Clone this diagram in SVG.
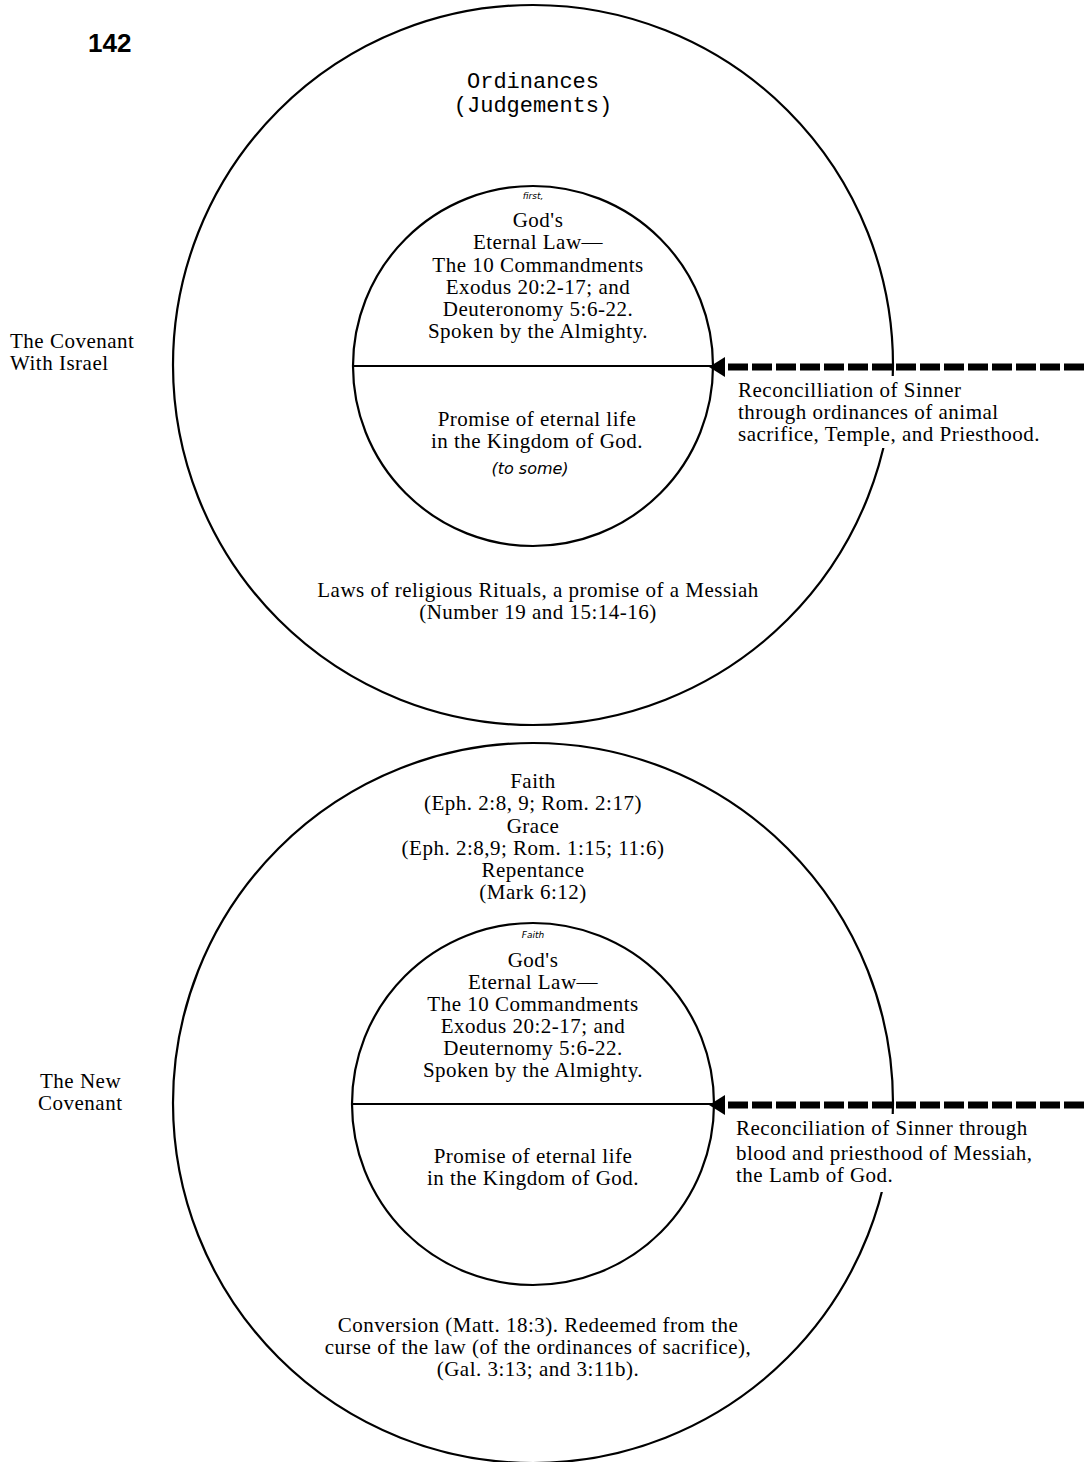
<svg xmlns="http://www.w3.org/2000/svg" width="1084" height="1462" viewBox="0 0 1084 1462">
<defs>
<style>
.c{fill:none;stroke:#000;stroke-width:2.2}
.t{font-family:"Liberation Serif","Times New Roman",serif;font-size:21px;letter-spacing:0.5px;fill:#000}
.m{text-anchor:middle}
.mono{font-family:"Liberation Mono","Courier New",monospace;font-size:22px;fill:#000;text-anchor:middle}
.hw{font-family:"DejaVu Sans",sans-serif;font-style:italic;fill:#000;text-anchor:middle}
.dash{stroke:#000;stroke-width:7;stroke-dasharray:20 4;fill:none}
.head{fill:#000}
.mask{fill:#fff}
</style>
</defs>
<rect width="1084" height="1462" fill="#fff"/>
<text x="88" y="52" font-family="Liberation Sans,Arial,sans-serif" font-weight="bold" font-size="26">142</text>

<g id="old-covenant">
<circle class="c" cx="533" cy="365" r="360"/>
<circle class="c" cx="533" cy="366" r="180"/>
<line class="c" x1="353" y1="366" x2="713" y2="366"/>
<text class="mono" x="533" y="88">Ordinances</text>
<text class="mono" x="533" y="112">(Judgements)</text>
<text class="hw" x="533" y="199" font-size="9">first,</text>
<g class="t m">
<text x="538" y="227">God's</text>
<text x="538" y="249">Eternal Law—</text>
<text x="538" y="272">The 10 Commandments</text>
<text x="538" y="294">Exodus 20:2-17; and</text>
<text x="538" y="316">Deuteronomy 5:6-22.</text>
<text x="538" y="338">Spoken by the Almighty.</text>
<text x="537" y="426">Promise of eternal life</text>
<text x="537" y="448">in the Kingdom of God.</text>
<text x="538" y="597">Laws of religious Rituals, a promise of a Messiah</text>
<text x="538" y="619">(Number 19 and 15:14-16)</text>
</g>
<text class="hw" x="530" y="474" font-size="16">(to some)</text>
</g>

<g id="old-label" class="t">
<text x="10" y="348">The Covenant</text>
<text x="10" y="370">With Israel</text>
</g>

<g id="new-covenant">
<circle class="c" cx="533" cy="1103" r="360"/>
<circle class="c" cx="533" cy="1104" r="181"/>
<line class="c" x1="352" y1="1104" x2="713" y2="1104"/>
<g class="t m">
<text x="533" y="788">Faith</text>
<text x="533" y="810">(Eph. 2:8, 9; Rom. 2:17)</text>
<text x="533" y="833">Grace</text>
<text x="533" y="855">(Eph. 2:8,9; Rom. 1:15; 11:6)</text>
<text x="533" y="877">Repentance</text>
<text x="533" y="899">(Mark 6:12)</text>
<text x="533" y="967">God's</text>
<text x="533" y="989">Eternal Law—</text>
<text x="533" y="1011">The 10 Commandments</text>
<text x="533" y="1033">Exodus 20:2-17; and</text>
<text x="533" y="1055">Deuternomy 5:6-22.</text>
<text x="533" y="1077">Spoken by the Almighty.</text>
<text x="533" y="1163">Promise of eternal life</text>
<text x="533" y="1185">in the Kingdom of God.</text>
<text x="538" y="1332">Conversion (Matt. 18:3). Redeemed from the</text>
<text x="538" y="1354">curse of the law (of the ordinances of sacrifice),</text>
<text x="538" y="1376">(Gal. 3:13; and 3:11b).</text>
</g>
<text class="hw" x="533" y="938" font-size="9">Faith</text>
</g>

<g id="new-label" class="t">
<text x="40" y="1088">The New</text>
<text x="38" y="1110">Covenant</text>
</g>

<g id="connectors">
<line class="dash" x1="1084" y1="367" x2="723" y2="367"/>
<polygon class="head" points="709,367 725,357 725,377"/>
<line class="dash" x1="1084" y1="1105" x2="723" y2="1105"/>
<polygon class="head" points="709,1105 725,1095 725,1115"/>
</g>

<g id="old-reconcile">
<rect class="mask" x="734" y="376" width="322" height="72"/>
<g class="t">
<text x="738" y="397">Reconcilliation of Sinner</text>
<text x="738" y="419">through ordinances of animal</text>
<text x="738" y="441">sacrifice, Temple, and Priesthood.</text>
</g>
</g>

<g id="new-reconcile">
<rect class="mask" x="732" y="1114" width="322" height="78"/>
<g class="t">
<text x="736" y="1135">Reconciliation of Sinner through</text>
<text x="736" y="1160">blood and priesthood of Messiah,</text>
<text x="736" y="1182">the Lamb of God.</text>
</g>
</g>
</svg>
